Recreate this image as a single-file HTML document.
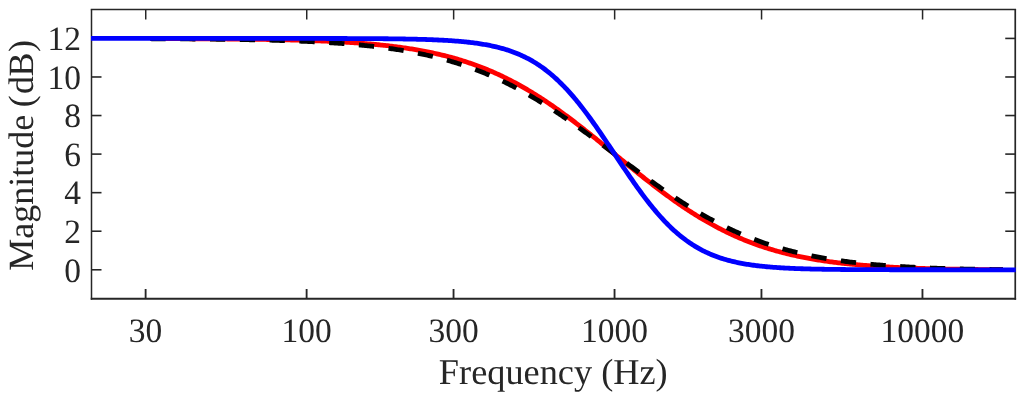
<!DOCTYPE html><html><head><meta charset="utf-8"><title>chart</title>
<style>html,body{margin:0;padding:0;background:#fff;}svg{display:block;will-change:transform;}text{font-family:"Liberation Serif",serif;fill:#262626;text-rendering:geometricPrecision;}</style></head><body>
<svg width="1024" height="398" viewBox="0 0 1024 398">
<rect x="0" y="0" width="1024" height="398" fill="#ffffff"/>
<defs><clipPath id="c"><rect x="91.00" y="9.50" width="924.75" height="289.20"/></clipPath></defs>
<g stroke="#262626" stroke-width="1.5" fill="none">
<path d="M90.75 9.50 H1016.10" stroke-width="1.5"/>
<path d="M91.50 9.50 V299.80" stroke-width="1.5"/>
<path d="M90.75 298.85 H1016.10" stroke-width="2.0"/>
<path d="M1015.25 9.50 V299.80" stroke-width="1.7"/>
<path d="M145.62 298.85 V289.00" stroke-width="1.85"/>
<path d="M145.72 9.50 V19.50" stroke-width="1.5"/>
<path d="M306.62 298.85 V289.00" stroke-width="1.85"/>
<path d="M306.72 9.50 V19.50" stroke-width="1.5"/>
<path d="M453.54 298.85 V289.00" stroke-width="1.85"/>
<path d="M453.64 9.50 V19.50" stroke-width="1.5"/>
<path d="M614.54 298.85 V289.00" stroke-width="1.85"/>
<path d="M614.64 9.50 V19.50" stroke-width="1.5"/>
<path d="M761.45 298.85 V289.00" stroke-width="1.85"/>
<path d="M761.55 9.50 V19.50" stroke-width="1.5"/>
<path d="M922.46 298.85 V289.00" stroke-width="1.85"/>
<path d="M922.56 9.50 V19.50" stroke-width="1.5"/>
<path d="M91.50 269.78 h10.00" stroke-width="1.6"/>
<path d="M1015.25 269.78 h-10.00" stroke-width="1.6"/>
<path d="M91.50 231.22 h10.00" stroke-width="1.6"/>
<path d="M1015.25 231.22 h-10.00" stroke-width="1.6"/>
<path d="M91.50 192.66 h10.00" stroke-width="1.6"/>
<path d="M1015.25 192.66 h-10.00" stroke-width="1.6"/>
<path d="M91.50 154.10 h10.00" stroke-width="1.6"/>
<path d="M1015.25 154.10 h-10.00" stroke-width="1.6"/>
<path d="M91.50 115.54 h10.00" stroke-width="1.6"/>
<path d="M1015.25 115.54 h-10.00" stroke-width="1.6"/>
<path d="M91.50 76.98 h10.00" stroke-width="1.6"/>
<path d="M1015.25 76.98 h-10.00" stroke-width="1.6"/>
<path d="M91.50 38.42 h10.00" stroke-width="1.6"/>
<path d="M1015.25 38.42 h-10.00" stroke-width="1.6"/>
</g>
<defs><clipPath id="c2"><rect x="150" y="9.50" width="853" height="289.20"/></clipPath></defs>
<g clip-path="url(#c2)" fill="none" stroke-linejoin="round">
<path d="M89.50 38.48 L90.83 38.48 L92.15 38.48 L93.48 38.48 L94.80 38.48 L96.13 38.49 L97.45 38.49 L98.78 38.49 L100.10 38.49 L101.43 38.49 L102.75 38.49 L104.08 38.50 L105.40 38.50 L106.73 38.50 L108.06 38.50 L109.38 38.50 L110.71 38.50 L112.03 38.51 L113.36 38.51 L114.68 38.51 L116.01 38.51 L117.33 38.51 L118.66 38.52 L119.98 38.52 L121.31 38.52 L122.63 38.52 L123.96 38.52 L125.28 38.53 L126.61 38.53 L127.94 38.53 L129.26 38.53 L130.59 38.54 L131.91 38.54 L133.24 38.54 L134.56 38.54 L135.89 38.55 L137.21 38.55 L138.54 38.55 L139.86 38.56 L141.19 38.56 L142.51 38.56 L143.84 38.56 L145.16 38.57 L146.49 38.57 L147.82 38.57 L149.14 38.58 L150.47 38.58 L151.79 38.58 L153.12 38.59 L154.44 38.59 L155.77 38.60 L157.09 38.60 L158.42 38.60 L159.74 38.61 L161.07 38.61 L162.39 38.62 L163.72 38.62 L165.05 38.62 L166.37 38.63 L167.70 38.63 L169.02 38.64 L170.35 38.64 L171.67 38.65 L173.00 38.65 L174.32 38.66 L175.65 38.66 L176.97 38.67 L178.30 38.67 L179.62 38.68 L180.95 38.68 L182.28 38.69 L183.60 38.70 L184.93 38.70 L186.25 38.71 L187.58 38.71 L188.90 38.72 L190.23 38.73 L191.55 38.73 L192.88 38.74 L194.20 38.75 L195.53 38.75 L196.85 38.76 L198.18 38.77 L199.50 38.78 L200.83 38.78 L202.16 38.79 L203.48 38.80 L204.81 38.81 L206.13 38.82 L207.46 38.83 L208.78 38.84 L210.11 38.84 L211.43 38.85 L212.76 38.86 L214.08 38.87 L215.41 38.88 L216.73 38.89 L218.06 38.90 L219.38 38.91 L220.71 38.92 L222.04 38.94 L223.36 38.95 L224.69 38.96 L226.01 38.97 L227.34 38.98 L228.66 38.99 L229.99 39.01 L231.31 39.02 L232.64 39.03 L233.96 39.05 L235.29 39.06 L236.61 39.07 L237.94 39.09 L239.27 39.10 L240.59 39.12 L241.92 39.13 L243.24 39.15 L244.57 39.16 L245.89 39.18 L247.22 39.20 L248.54 39.21 L249.87 39.23 L251.19 39.25 L252.52 39.26 L253.84 39.28 L255.17 39.30 L256.50 39.32 L257.82 39.34 L259.15 39.36 L260.47 39.38 L261.80 39.40 L263.12 39.42 L264.45 39.44 L265.77 39.47 L267.10 39.49 L268.42 39.51 L269.75 39.54 L271.07 39.56 L272.40 39.59 L273.72 39.61 L275.05 39.64 L276.38 39.66 L277.70 39.69 L279.03 39.72 L280.35 39.75 L281.68 39.77 L283.00 39.80 L284.33 39.83 L285.65 39.86 L286.98 39.90 L288.30 39.93 L289.63 39.96 L290.95 39.99 L292.28 40.03 L293.61 40.06 L294.93 40.10 L296.26 40.13 L297.58 40.17 L298.91 40.21 L300.23 40.25 L301.56 40.29 L302.88 40.33 L304.21 40.37 L305.53 40.41 L306.86 40.45 L308.18 40.50 L309.51 40.54 L310.83 40.59 L312.16 40.63 L313.49 40.68 L314.81 40.73 L316.14 40.78 L317.46 40.83 L318.79 40.88 L320.11 40.93 L321.44 40.99 L322.76 41.04 L324.09 41.10 L325.41 41.16 L326.74 41.22 L328.06 41.28 L329.39 41.34 L330.72 41.40 L332.04 41.46 L333.37 41.53 L334.69 41.59 L336.02 41.66 L337.34 41.73 L338.67 41.80 L339.99 41.87 L341.32 41.95 L342.64 42.02 L343.97 42.10 L345.29 42.18 L346.62 42.26 L347.94 42.34 L349.27 42.42 L350.60 42.51 L351.92 42.59 L353.25 42.68 L354.57 42.77 L355.90 42.87 L357.22 42.96 L358.55 43.06 L359.87 43.15 L361.20 43.25 L362.52 43.36 L363.85 43.46 L365.17 43.57 L366.50 43.68 L367.82 43.79 L369.15 43.90 L370.48 44.01 L371.80 44.13 L373.13 44.25 L374.45 44.37 L375.78 44.50 L377.10 44.63 L378.43 44.76 L379.75 44.89 L381.08 45.02 L382.40 45.16 L383.73 45.30 L385.05 45.45 L386.38 45.59 L387.71 45.74 L389.03 45.89 L390.36 46.05 L391.68 46.21 L393.01 46.37 L394.33 46.53 L395.66 46.70 L396.98 46.87 L398.31 47.04 L399.63 47.22 L400.96 47.40 L402.28 47.59 L403.61 47.77 L404.94 47.97 L406.26 48.16 L407.59 48.36 L408.91 48.56 L410.24 48.77 L411.56 48.98 L412.89 49.19 L414.21 49.41 L415.54 49.64 L416.86 49.86 L418.19 50.09 L419.51 50.33 L420.84 50.57 L422.16 50.81 L423.49 51.06 L424.82 51.31 L426.14 51.57 L427.47 51.83 L428.79 52.10 L430.12 52.37 L431.44 52.65 L432.77 52.93 L434.09 53.22 L435.42 53.51 L436.74 53.81 L438.07 54.11 L439.39 54.42 L440.72 54.73 L442.05 55.05 L443.37 55.37 L444.70 55.70 L446.02 56.04 L447.35 56.38 L448.67 56.72 L450.00 57.08 L451.32 57.43 L452.65 57.80 L453.97 58.17 L455.30 58.55 L456.62 58.93 L457.95 59.32 L459.27 59.71 L460.60 60.11 L461.93 60.52 L463.25 60.94 L464.58 61.36 L465.90 61.79 L467.23 62.22 L468.55 62.66 L469.88 63.11 L471.20 63.56 L472.53 64.03 L473.85 64.50 L475.18 64.97 L476.50 65.45 L477.83 65.94 L479.15 66.44 L480.48 66.95 L481.81 67.46 L483.13 67.98 L484.46 68.50 L485.78 69.04 L487.11 69.58 L488.43 70.13 L489.76 70.69 L491.08 71.25 L492.41 71.82 L493.73 72.40 L495.06 72.99 L496.38 73.58 L497.71 74.19 L499.04 74.80 L500.36 75.42 L501.69 76.04 L503.01 76.68 L504.34 77.32 L505.66 77.97 L506.99 78.63 L508.31 79.29 L509.64 79.96 L510.96 80.65 L512.29 81.34 L513.61 82.03 L514.94 82.74 L516.26 83.45 L517.59 84.17 L518.92 84.90 L520.24 85.64 L521.57 86.38 L522.89 87.13 L524.22 87.89 L525.54 88.66 L526.87 89.44 L528.19 90.22 L529.52 91.01 L530.84 91.81 L532.17 92.62 L533.49 93.43 L534.82 94.25 L536.15 95.08 L537.47 95.92 L538.80 96.76 L540.12 97.61 L541.45 98.47 L542.77 99.33 L544.10 100.21 L545.42 101.09 L546.75 101.97 L548.07 102.87 L549.40 103.77 L550.72 104.67 L552.05 105.59 L553.38 106.51 L554.70 107.43 L556.03 108.36 L557.35 109.30 L558.68 110.25 L560.00 111.20 L561.33 112.16 L562.65 113.12 L563.98 114.09 L565.30 115.06 L566.63 116.04 L567.95 117.03 L569.28 118.02 L570.60 119.01 L571.93 120.01 L573.26 121.02 L574.58 122.03 L575.91 123.04 L577.23 124.06 L578.56 125.09 L579.88 126.11 L581.21 127.15 L582.53 128.18 L583.86 129.22 L585.18 130.27 L586.51 131.31 L587.83 132.36 L589.16 133.42 L590.49 134.47 L591.81 135.53 L593.14 136.60 L594.46 137.66 L595.79 138.73 L597.11 139.80 L598.44 140.87 L599.76 141.95 L601.09 143.02 L602.41 144.10 L603.74 145.18 L605.06 146.26 L606.39 147.34 L607.71 148.43 L609.04 149.51 L610.37 150.60 L611.69 151.68 L613.02 152.77 L614.34 153.85 L615.67 154.94 L616.99 156.03 L618.32 157.11 L619.64 158.20 L620.97 159.28 L622.29 160.37 L623.62 161.45 L624.94 162.53 L626.27 163.62 L627.60 164.70 L628.92 165.77 L630.25 166.85 L631.57 167.93 L632.90 169.00 L634.22 170.07 L635.55 171.14 L636.87 172.21 L638.20 173.27 L639.52 174.33 L640.85 175.39 L642.17 176.44 L643.50 177.50 L644.82 178.54 L646.15 179.59 L647.48 180.63 L648.80 181.67 L650.13 182.70 L651.45 183.73 L652.78 184.76 L654.10 185.78 L655.43 186.79 L656.75 187.80 L658.08 188.81 L659.40 189.81 L660.73 190.81 L662.05 191.80 L663.38 192.79 L664.71 193.77 L666.03 194.75 L667.36 195.72 L668.68 196.68 L670.01 197.64 L671.33 198.59 L672.66 199.54 L673.98 200.48 L675.31 201.42 L676.63 202.34 L677.96 203.27 L679.28 204.18 L680.61 205.09 L681.93 205.99 L683.26 206.89 L684.59 207.78 L685.91 208.66 L687.24 209.53 L688.56 210.40 L689.89 211.26 L691.21 212.11 L692.54 212.96 L693.86 213.80 L695.19 214.63 L696.51 215.45 L697.84 216.27 L699.16 217.08 L700.49 217.88 L701.82 218.67 L703.14 219.46 L704.47 220.23 L705.79 221.00 L707.12 221.77 L708.44 222.52 L709.77 223.27 L711.09 224.01 L712.42 224.74 L713.74 225.46 L715.07 226.18 L716.39 226.88 L717.72 227.58 L719.04 228.28 L720.37 228.96 L721.70 229.63 L723.02 230.30 L724.35 230.96 L725.67 231.61 L727.00 232.26 L728.32 232.89 L729.65 233.52 L730.97 234.14 L732.30 234.76 L733.62 235.36 L734.95 235.96 L736.27 236.55 L737.60 237.13 L738.92 237.70 L740.25 238.27 L741.58 238.83 L742.90 239.38 L744.23 239.92 L745.55 240.46 L746.88 240.98 L748.20 241.51 L749.53 242.02 L750.85 242.53 L752.18 243.02 L753.50 243.52 L754.83 244.00 L756.15 244.48 L757.48 244.95 L758.81 245.41 L760.13 245.87 L761.46 246.32 L762.78 246.76 L764.11 247.20 L765.43 247.62 L766.76 248.05 L768.08 248.46 L769.41 248.87 L770.73 249.27 L772.06 249.67 L773.38 250.06 L774.71 250.44 L776.03 250.82 L777.36 251.19 L778.69 251.56 L780.01 251.92 L781.34 252.27 L782.66 252.62 L783.99 252.96 L785.31 253.29 L786.64 253.62 L787.96 253.95 L789.29 254.27 L790.61 254.58 L791.94 254.89 L793.26 255.19 L794.59 255.49 L795.92 255.78 L797.24 256.07 L798.57 256.35 L799.89 256.63 L801.22 256.90 L802.54 257.17 L803.87 257.43 L805.19 257.69 L806.52 257.94 L807.84 258.19 L809.17 258.43 L810.49 258.67 L811.82 258.91 L813.14 259.14 L814.47 259.36 L815.80 259.59 L817.12 259.81 L818.45 260.02 L819.77 260.23 L821.10 260.44 L822.42 260.64 L823.75 260.84 L825.07 261.03 L826.40 261.22 L827.72 261.41 L829.05 261.59 L830.37 261.77 L831.70 261.95 L833.03 262.13 L834.35 262.30 L835.68 262.46 L837.00 262.63 L838.33 262.79 L839.65 262.94 L840.98 263.10 L842.30 263.25 L843.63 263.40 L844.95 263.54 L846.28 263.69 L847.60 263.83 L848.93 263.96 L850.25 264.10 L851.58 264.23 L852.91 264.36 L854.23 264.48 L855.56 264.61 L856.88 264.73 L858.21 264.85 L859.53 264.96 L860.86 265.08 L862.18 265.19 L863.51 265.30 L864.83 265.41 L866.16 265.51 L867.48 265.62 L868.81 265.72 L870.14 265.82 L871.46 265.91 L872.79 266.01 L874.11 266.10 L875.44 266.19 L876.76 266.28 L878.09 266.37 L879.41 266.45 L880.74 266.54 L882.06 266.62 L883.39 266.70 L884.71 266.78 L886.04 266.85 L887.37 266.93 L888.69 267.00 L890.02 267.07 L891.34 267.14 L892.67 267.21 L893.99 267.28 L895.32 267.35 L896.64 267.41 L897.97 267.48 L899.29 267.54 L900.62 267.60 L901.94 267.66 L903.27 267.72 L904.59 267.77 L905.92 267.83 L907.25 267.88 L908.57 267.94 L909.90 267.99 L911.22 268.04 L912.55 268.09 L913.87 268.14 L915.20 268.19 L916.52 268.23 L917.85 268.28 L919.17 268.32 L920.50 268.37 L921.82 268.41 L923.15 268.45 L924.48 268.49 L925.80 268.53 L927.13 268.57 L928.45 268.61 L929.78 268.64 L931.10 268.68 L932.43 268.72 L933.75 268.75 L935.08 268.78 L936.40 268.82 L937.73 268.85 L939.05 268.88 L940.38 268.91 L941.70 268.94 L943.03 268.97 L944.36 269.00 L945.68 269.03 L947.01 269.06 L948.33 269.08 L949.66 269.11 L950.98 269.13 L952.31 269.16 L953.63 269.18 L954.96 269.21 L956.28 269.23 L957.61 269.25 L958.93 269.27 L960.26 269.29 L961.59 269.31 L962.91 269.33 L964.24 269.35 L965.56 269.37 L966.89 269.39 L968.21 269.41 L969.54 269.43 L970.86 269.44 L972.19 269.46 L973.51 269.48 L974.84 269.49 L976.16 269.51 L977.49 269.52 L978.81 269.53 L980.14 269.55 L981.47 269.56 L982.79 269.57 L984.12 269.59 L985.44 269.60 L986.77 269.61 L988.09 269.62 L989.42 269.63 L990.74 269.64 L992.07 269.65 L993.39 269.66 L994.72 269.67 L996.04 269.68 L997.37 269.69 L998.70 269.70 L1000.02 269.70 L1001.35 269.71 L1002.67 269.72 L1004.00 269.72 L1005.32 269.73 L1006.65 269.74 L1007.97 269.74 L1009.30 269.75 L1010.62 269.75 L1011.95 269.76 L1013.27 269.76 L1014.60 269.76 L1015.92 269.77 L1017.25 269.77" stroke="#ff0000" stroke-width="4.8"/>
<path d="M89.50 38.54 L90.83 38.54 L92.15 38.55 L93.48 38.55 L94.80 38.55 L96.13 38.55 L97.45 38.56 L98.78 38.56 L100.10 38.56 L101.43 38.56 L102.75 38.57 L104.08 38.57 L105.40 38.57 L106.73 38.58 L108.06 38.58 L109.38 38.58 L110.71 38.59 L112.03 38.59 L113.36 38.59 L114.68 38.60 L116.01 38.60 L117.33 38.60 L118.66 38.61 L119.98 38.61 L121.31 38.61 L122.63 38.62 L123.96 38.62 L125.28 38.63 L126.61 38.63 L127.94 38.63 L129.26 38.64 L130.59 38.64 L131.91 38.65 L133.24 38.65 L134.56 38.66 L135.89 38.66 L137.21 38.67 L138.54 38.67 L139.86 38.68 L141.19 38.68 L142.51 38.69 L143.84 38.69 L145.16 38.70 L146.49 38.70 L147.82 38.71 L149.14 38.71 L150.47 38.72 L151.79 38.73 L153.12 38.73 L154.44 38.74 L155.77 38.74 L157.09 38.75 L158.42 38.76 L159.74 38.76 L161.07 38.77 L162.39 38.78 L163.72 38.79 L165.05 38.79 L166.37 38.80 L167.70 38.81 L169.02 38.82 L170.35 38.82 L171.67 38.83 L173.00 38.84 L174.32 38.85 L175.65 38.86 L176.97 38.87 L178.30 38.87 L179.62 38.88 L180.95 38.89 L182.28 38.90 L183.60 38.91 L184.93 38.92 L186.25 38.93 L187.58 38.94 L188.90 38.95 L190.23 38.96 L191.55 38.97 L192.88 38.98 L194.20 39.00 L195.53 39.01 L196.85 39.02 L198.18 39.03 L199.50 39.04 L200.83 39.06 L202.16 39.07 L203.48 39.08 L204.81 39.09 L206.13 39.11 L207.46 39.12 L208.78 39.14 L210.11 39.15 L211.43 39.16 L212.76 39.18 L214.08 39.19 L215.41 39.21 L216.73 39.23 L218.06 39.24 L219.38 39.26 L220.71 39.27 L222.04 39.29 L223.36 39.31 L224.69 39.33 L226.01 39.35 L227.34 39.36 L228.66 39.38 L229.99 39.40 L231.31 39.42 L232.64 39.44 L233.96 39.46 L235.29 39.48 L236.61 39.50 L237.94 39.52 L239.27 39.55 L240.59 39.57 L241.92 39.59 L243.24 39.61 L244.57 39.64 L245.89 39.66 L247.22 39.69 L248.54 39.71 L249.87 39.74 L251.19 39.76 L252.52 39.79 L253.84 39.82 L255.17 39.85 L256.50 39.87 L257.82 39.90 L259.15 39.93 L260.47 39.96 L261.80 39.99 L263.12 40.02 L264.45 40.06 L265.77 40.09 L267.10 40.12 L268.42 40.15 L269.75 40.19 L271.07 40.22 L272.40 40.26 L273.72 40.30 L275.05 40.33 L276.38 40.37 L277.70 40.41 L279.03 40.45 L280.35 40.49 L281.68 40.53 L283.00 40.57 L284.33 40.61 L285.65 40.66 L286.98 40.70 L288.30 40.75 L289.63 40.79 L290.95 40.84 L292.28 40.89 L293.61 40.93 L294.93 40.98 L296.26 41.03 L297.58 41.09 L298.91 41.14 L300.23 41.19 L301.56 41.25 L302.88 41.30 L304.21 41.36 L305.53 41.42 L306.86 41.47 L308.18 41.53 L309.51 41.60 L310.83 41.66 L312.16 41.72 L313.49 41.79 L314.81 41.85 L316.14 41.92 L317.46 41.99 L318.79 42.06 L320.11 42.13 L321.44 42.20 L322.76 42.27 L324.09 42.35 L325.41 42.43 L326.74 42.50 L328.06 42.58 L329.39 42.66 L330.72 42.75 L332.04 42.83 L333.37 42.92 L334.69 43.00 L336.02 43.09 L337.34 43.18 L338.67 43.28 L339.99 43.37 L341.32 43.47 L342.64 43.56 L343.97 43.66 L345.29 43.76 L346.62 43.87 L347.94 43.97 L349.27 44.08 L350.60 44.19 L351.92 44.30 L353.25 44.41 L354.57 44.53 L355.90 44.64 L357.22 44.76 L358.55 44.88 L359.87 45.01 L361.20 45.13 L362.52 45.26 L363.85 45.39 L365.17 45.53 L366.50 45.66 L367.82 45.80 L369.15 45.94 L370.48 46.08 L371.80 46.23 L373.13 46.38 L374.45 46.53 L375.78 46.68 L377.10 46.84 L378.43 47.00 L379.75 47.16 L381.08 47.32 L382.40 47.49 L383.73 47.66 L385.05 47.83 L386.38 48.01 L387.71 48.19 L389.03 48.37 L390.36 48.56 L391.68 48.75 L393.01 48.94 L394.33 49.14 L395.66 49.34 L396.98 49.54 L398.31 49.75 L399.63 49.96 L400.96 50.17 L402.28 50.39 L403.61 50.61 L404.94 50.83 L406.26 51.06 L407.59 51.29 L408.91 51.53 L410.24 51.77 L411.56 52.01 L412.89 52.26 L414.21 52.51 L415.54 52.77 L416.86 53.03 L418.19 53.29 L419.51 53.56 L420.84 53.83 L422.16 54.11 L423.49 54.39 L424.82 54.68 L426.14 54.97 L427.47 55.26 L428.79 55.57 L430.12 55.87 L431.44 56.18 L432.77 56.49 L434.09 56.81 L435.42 57.14 L436.74 57.47 L438.07 57.80 L439.39 58.14 L440.72 58.49 L442.05 58.84 L443.37 59.19 L444.70 59.55 L446.02 59.92 L447.35 60.29 L448.67 60.67 L450.00 61.05 L451.32 61.44 L452.65 61.83 L453.97 62.23 L455.30 62.63 L456.62 63.04 L457.95 63.46 L459.27 63.88 L460.60 64.31 L461.93 64.74 L463.25 65.18 L464.58 65.63 L465.90 66.08 L467.23 66.54 L468.55 67.00 L469.88 67.47 L471.20 67.95 L472.53 68.43 L473.85 68.92 L475.18 69.42 L476.50 69.92 L477.83 70.42 L479.15 70.94 L480.48 71.46 L481.81 71.99 L483.13 72.52 L484.46 73.06 L485.78 73.61 L487.11 74.16 L488.43 74.72 L489.76 75.28 L491.08 75.86 L492.41 76.44 L493.73 77.02 L495.06 77.61 L496.38 78.21 L497.71 78.82 L499.04 79.43 L500.36 80.05 L501.69 80.68 L503.01 81.31 L504.34 81.95 L505.66 82.59 L506.99 83.25 L508.31 83.90 L509.64 84.57 L510.96 85.24 L512.29 85.92 L513.61 86.61 L514.94 87.30 L516.26 88.00 L517.59 88.70 L518.92 89.41 L520.24 90.13 L521.57 90.86 L522.89 91.59 L524.22 92.33 L525.54 93.07 L526.87 93.82 L528.19 94.58 L529.52 95.34 L530.84 96.11 L532.17 96.88 L533.49 97.66 L534.82 98.45 L536.15 99.24 L537.47 100.04 L538.80 100.85 L540.12 101.66 L541.45 102.48 L542.77 103.30 L544.10 104.13 L545.42 104.96 L546.75 105.80 L548.07 106.64 L549.40 107.49 L550.72 108.35 L552.05 109.21 L553.38 110.08 L554.70 110.95 L556.03 111.82 L557.35 112.71 L558.68 113.59 L560.00 114.48 L561.33 115.38 L562.65 116.28 L563.98 117.18 L565.30 118.09 L566.63 119.00 L567.95 119.92 L569.28 120.84 L570.60 121.77 L571.93 122.70 L573.26 123.63 L574.58 124.57 L575.91 125.51 L577.23 126.46 L578.56 127.40 L579.88 128.36 L581.21 129.31 L582.53 130.27 L583.86 131.23 L585.18 132.19 L586.51 133.16 L587.83 134.13 L589.16 135.10 L590.49 136.07 L591.81 137.05 L593.14 138.03 L594.46 139.01 L595.79 139.99 L597.11 140.97 L598.44 141.96 L599.76 142.94 L601.09 143.93 L602.41 144.92 L603.74 145.91 L605.06 146.91 L606.39 147.90 L607.71 148.90 L609.04 149.89 L610.37 150.89 L611.69 151.88 L613.02 152.88 L614.34 153.87 L615.67 154.87 L616.99 155.87 L618.32 156.86 L619.64 157.86 L620.97 158.86 L622.29 159.85 L623.62 160.85 L624.94 161.84 L626.27 162.83 L627.60 163.83 L628.92 164.82 L630.25 165.81 L631.57 166.79 L632.90 167.78 L634.22 168.77 L635.55 169.75 L636.87 170.73 L638.20 171.71 L639.52 172.69 L640.85 173.66 L642.17 174.63 L643.50 175.60 L644.82 176.57 L646.15 177.54 L647.48 178.50 L648.80 179.46 L650.13 180.41 L651.45 181.37 L652.78 182.32 L654.10 183.26 L655.43 184.20 L656.75 185.14 L658.08 186.08 L659.40 187.01 L660.73 187.94 L662.05 188.86 L663.38 189.78 L664.71 190.70 L666.03 191.61 L667.36 192.52 L668.68 193.42 L670.01 194.32 L671.33 195.21 L672.66 196.10 L673.98 196.98 L675.31 197.86 L676.63 198.73 L677.96 199.60 L679.28 200.47 L680.61 201.33 L681.93 202.18 L683.26 203.03 L684.59 203.87 L685.91 204.71 L687.24 205.54 L688.56 206.36 L689.89 207.18 L691.21 208.00 L692.54 208.80 L693.86 209.61 L695.19 210.40 L696.51 211.19 L697.84 211.98 L699.16 212.76 L700.49 213.53 L701.82 214.29 L703.14 215.05 L704.47 215.81 L705.79 216.55 L707.12 217.29 L708.44 218.03 L709.77 218.76 L711.09 219.48 L712.42 220.19 L713.74 220.90 L715.07 221.60 L716.39 222.30 L717.72 222.99 L719.04 223.67 L720.37 224.34 L721.70 225.01 L723.02 225.68 L724.35 226.33 L725.67 226.98 L727.00 227.62 L728.32 228.26 L729.65 228.89 L730.97 229.51 L732.30 230.13 L733.62 230.74 L734.95 231.34 L736.27 231.93 L737.60 232.52 L738.92 233.11 L740.25 233.68 L741.58 234.25 L742.90 234.82 L744.23 235.37 L745.55 235.92 L746.88 236.46 L748.20 237.00 L749.53 237.53 L750.85 238.06 L752.18 238.57 L753.50 239.08 L754.83 239.59 L756.15 240.09 L757.48 240.58 L758.81 241.06 L760.13 241.54 L761.46 242.02 L762.78 242.48 L764.11 242.94 L765.43 243.40 L766.76 243.85 L768.08 244.29 L769.41 244.73 L770.73 245.16 L772.06 245.58 L773.38 246.00 L774.71 246.42 L776.03 246.82 L777.36 247.23 L778.69 247.62 L780.01 248.01 L781.34 248.40 L782.66 248.78 L783.99 249.15 L785.31 249.52 L786.64 249.88 L787.96 250.24 L789.29 250.59 L790.61 250.94 L791.94 251.28 L793.26 251.62 L794.59 251.95 L795.92 252.28 L797.24 252.60 L798.57 252.92 L799.89 253.23 L801.22 253.54 L802.54 253.84 L803.87 254.14 L805.19 254.43 L806.52 254.72 L807.84 255.00 L809.17 255.28 L810.49 255.56 L811.82 255.83 L813.14 256.10 L814.47 256.36 L815.80 256.62 L817.12 256.87 L818.45 257.12 L819.77 257.36 L821.10 257.61 L822.42 257.84 L823.75 258.08 L825.07 258.31 L826.40 258.53 L827.72 258.76 L829.05 258.97 L830.37 259.19 L831.70 259.40 L833.03 259.61 L834.35 259.81 L835.68 260.01 L837.00 260.21 L838.33 260.40 L839.65 260.60 L840.98 260.78 L842.30 260.97 L843.63 261.15 L844.95 261.33 L846.28 261.50 L847.60 261.67 L848.93 261.84 L850.25 262.01 L851.58 262.17 L852.91 262.33 L854.23 262.49 L855.56 262.64 L856.88 262.79 L858.21 262.94 L859.53 263.09 L860.86 263.23 L862.18 263.37 L863.51 263.51 L864.83 263.65 L866.16 263.78 L867.48 263.91 L868.81 264.04 L870.14 264.17 L871.46 264.29 L872.79 264.42 L874.11 264.54 L875.44 264.65 L876.76 264.77 L878.09 264.88 L879.41 265.00 L880.74 265.10 L882.06 265.21 L883.39 265.32 L884.71 265.42 L886.04 265.52 L887.37 265.62 L888.69 265.72 L890.02 265.82 L891.34 265.91 L892.67 266.00 L893.99 266.09 L895.32 266.18 L896.64 266.27 L897.97 266.36 L899.29 266.44 L900.62 266.52 L901.94 266.60 L903.27 266.68 L904.59 266.76 L905.92 266.84 L907.25 266.91 L908.57 266.98 L909.90 267.06 L911.22 267.13 L912.55 267.20 L913.87 267.26 L915.20 267.33 L916.52 267.40 L917.85 267.46 L919.17 267.52 L920.50 267.58 L921.82 267.65 L923.15 267.70 L924.48 267.76 L925.80 267.82 L927.13 267.88 L928.45 267.93 L929.78 267.98 L931.10 268.04 L932.43 268.09 L933.75 268.14 L935.08 268.19 L936.40 268.24 L937.73 268.28 L939.05 268.33 L940.38 268.37 L941.70 268.42 L943.03 268.46 L944.36 268.51 L945.68 268.55 L947.01 268.59 L948.33 268.63 L949.66 268.67 L950.98 268.71 L952.31 268.74 L953.63 268.78 L954.96 268.82 L956.28 268.85 L957.61 268.89 L958.93 268.92 L960.26 268.95 L961.59 268.98 L962.91 269.02 L964.24 269.05 L965.56 269.08 L966.89 269.11 L968.21 269.13 L969.54 269.16 L970.86 269.19 L972.19 269.22 L973.51 269.24 L974.84 269.27 L976.16 269.29 L977.49 269.31 L978.81 269.34 L980.14 269.36 L981.47 269.38 L982.79 269.40 L984.12 269.42 L985.44 269.44 L986.77 269.46 L988.09 269.48 L989.42 269.50 L990.74 269.52 L992.07 269.54 L993.39 269.55 L994.72 269.57 L996.04 269.59 L997.37 269.60 L998.70 269.61 L1000.02 269.63 L1001.35 269.64 L1002.67 269.65 L1004.00 269.67 L1005.32 269.68 L1006.65 269.69 L1007.97 269.70 L1009.30 269.71 L1010.62 269.72 L1011.95 269.73 L1013.27 269.73 L1014.60 269.74 L1015.92 269.75 L1017.25 269.76" stroke="#000000" stroke-width="4.8" stroke-dasharray="15.3 14.51" stroke-dashoffset="28.55"/>
</g>
<g clip-path="url(#c)" fill="none" stroke-linejoin="round">
<path d="M89.50 38.42 L90.83 38.42 L92.15 38.42 L93.48 38.42 L94.80 38.42 L96.13 38.42 L97.45 38.42 L98.78 38.42 L100.10 38.42 L101.43 38.42 L102.75 38.42 L104.08 38.42 L105.40 38.42 L106.73 38.42 L108.06 38.42 L109.38 38.42 L110.71 38.42 L112.03 38.42 L113.36 38.42 L114.68 38.42 L116.01 38.42 L117.33 38.42 L118.66 38.42 L119.98 38.42 L121.31 38.42 L122.63 38.42 L123.96 38.42 L125.28 38.42 L126.61 38.42 L127.94 38.42 L129.26 38.42 L130.59 38.42 L131.91 38.42 L133.24 38.42 L134.56 38.42 L135.89 38.42 L137.21 38.42 L138.54 38.42 L139.86 38.42 L141.19 38.42 L142.51 38.42 L143.84 38.42 L145.16 38.42 L146.49 38.42 L147.82 38.42 L149.14 38.42 L150.47 38.42 L151.79 38.42 L153.12 38.42 L154.44 38.42 L155.77 38.42 L157.09 38.42 L158.42 38.42 L159.74 38.42 L161.07 38.42 L162.39 38.42 L163.72 38.42 L165.05 38.42 L166.37 38.42 L167.70 38.42 L169.02 38.42 L170.35 38.42 L171.67 38.42 L173.00 38.42 L174.32 38.42 L175.65 38.42 L176.97 38.42 L178.30 38.42 L179.62 38.42 L180.95 38.42 L182.28 38.42 L183.60 38.42 L184.93 38.42 L186.25 38.42 L187.58 38.42 L188.90 38.42 L190.23 38.42 L191.55 38.42 L192.88 38.42 L194.20 38.42 L195.53 38.42 L196.85 38.42 L198.18 38.42 L199.50 38.42 L200.83 38.42 L202.16 38.42 L203.48 38.42 L204.81 38.42 L206.13 38.42 L207.46 38.42 L208.78 38.42 L210.11 38.42 L211.43 38.42 L212.76 38.42 L214.08 38.42 L215.41 38.42 L216.73 38.42 L218.06 38.42 L219.38 38.42 L220.71 38.42 L222.04 38.42 L223.36 38.42 L224.69 38.42 L226.01 38.42 L227.34 38.42 L228.66 38.42 L229.99 38.42 L231.31 38.42 L232.64 38.42 L233.96 38.42 L235.29 38.42 L236.61 38.42 L237.94 38.42 L239.27 38.42 L240.59 38.42 L241.92 38.42 L243.24 38.42 L244.57 38.42 L245.89 38.43 L247.22 38.43 L248.54 38.43 L249.87 38.43 L251.19 38.43 L252.52 38.43 L253.84 38.43 L255.17 38.43 L256.50 38.43 L257.82 38.43 L259.15 38.43 L260.47 38.43 L261.80 38.43 L263.12 38.43 L264.45 38.43 L265.77 38.43 L267.10 38.43 L268.42 38.43 L269.75 38.43 L271.07 38.43 L272.40 38.43 L273.72 38.43 L275.05 38.43 L276.38 38.43 L277.70 38.43 L279.03 38.43 L280.35 38.43 L281.68 38.43 L283.00 38.44 L284.33 38.44 L285.65 38.44 L286.98 38.44 L288.30 38.44 L289.63 38.44 L290.95 38.44 L292.28 38.44 L293.61 38.44 L294.93 38.44 L296.26 38.44 L297.58 38.44 L298.91 38.44 L300.23 38.45 L301.56 38.45 L302.88 38.45 L304.21 38.45 L305.53 38.45 L306.86 38.45 L308.18 38.45 L309.51 38.45 L310.83 38.46 L312.16 38.46 L313.49 38.46 L314.81 38.46 L316.14 38.46 L317.46 38.46 L318.79 38.46 L320.11 38.47 L321.44 38.47 L322.76 38.47 L324.09 38.47 L325.41 38.47 L326.74 38.48 L328.06 38.48 L329.39 38.48 L330.72 38.48 L332.04 38.49 L333.37 38.49 L334.69 38.49 L336.02 38.49 L337.34 38.50 L338.67 38.50 L339.99 38.50 L341.32 38.51 L342.64 38.51 L343.97 38.51 L345.29 38.52 L346.62 38.52 L347.94 38.53 L349.27 38.53 L350.60 38.54 L351.92 38.54 L353.25 38.54 L354.57 38.55 L355.90 38.55 L357.22 38.56 L358.55 38.57 L359.87 38.57 L361.20 38.58 L362.52 38.58 L363.85 38.59 L365.17 38.60 L366.50 38.61 L367.82 38.61 L369.15 38.62 L370.48 38.63 L371.80 38.64 L373.13 38.65 L374.45 38.65 L375.78 38.66 L377.10 38.67 L378.43 38.68 L379.75 38.70 L381.08 38.71 L382.40 38.72 L383.73 38.73 L385.05 38.74 L386.38 38.76 L387.71 38.77 L389.03 38.78 L390.36 38.80 L391.68 38.81 L393.01 38.83 L394.33 38.85 L395.66 38.86 L396.98 38.88 L398.31 38.90 L399.63 38.92 L400.96 38.94 L402.28 38.96 L403.61 38.98 L404.94 39.00 L406.26 39.03 L407.59 39.05 L408.91 39.08 L410.24 39.10 L411.56 39.13 L412.89 39.16 L414.21 39.19 L415.54 39.22 L416.86 39.25 L418.19 39.29 L419.51 39.32 L420.84 39.36 L422.16 39.39 L423.49 39.43 L424.82 39.47 L426.14 39.52 L427.47 39.56 L428.79 39.61 L430.12 39.65 L431.44 39.70 L432.77 39.75 L434.09 39.81 L435.42 39.86 L436.74 39.92 L438.07 39.98 L439.39 40.04 L440.72 40.11 L442.05 40.18 L443.37 40.25 L444.70 40.32 L446.02 40.40 L447.35 40.47 L448.67 40.56 L450.00 40.64 L451.32 40.73 L452.65 40.82 L453.97 40.92 L455.30 41.02 L456.62 41.12 L457.95 41.23 L459.27 41.34 L460.60 41.45 L461.93 41.57 L463.25 41.70 L464.58 41.83 L465.90 41.96 L467.23 42.10 L468.55 42.25 L469.88 42.40 L471.20 42.55 L472.53 42.72 L473.85 42.89 L475.18 43.06 L476.50 43.24 L477.83 43.43 L479.15 43.63 L480.48 43.83 L481.81 44.04 L483.13 44.26 L484.46 44.49 L485.78 44.72 L487.11 44.96 L488.43 45.22 L489.76 45.48 L491.08 45.75 L492.41 46.03 L493.73 46.33 L495.06 46.63 L496.38 46.94 L497.71 47.27 L499.04 47.60 L500.36 47.95 L501.69 48.31 L503.01 48.68 L504.34 49.07 L505.66 49.47 L506.99 49.88 L508.31 50.31 L509.64 50.76 L510.96 51.21 L512.29 51.69 L513.61 52.18 L514.94 52.68 L516.26 53.20 L517.59 53.74 L518.92 54.30 L520.24 54.87 L521.57 55.47 L522.89 56.08 L524.22 56.71 L525.54 57.36 L526.87 58.03 L528.19 58.73 L529.52 59.44 L530.84 60.17 L532.17 60.93 L533.49 61.71 L534.82 62.51 L536.15 63.33 L537.47 64.18 L538.80 65.05 L540.12 65.94 L541.45 66.86 L542.77 67.81 L544.10 68.77 L545.42 69.77 L546.75 70.79 L548.07 71.83 L549.40 72.90 L550.72 74.00 L552.05 75.12 L553.38 76.27 L554.70 77.44 L556.03 78.65 L557.35 79.87 L558.68 81.13 L560.00 82.41 L561.33 83.72 L562.65 85.06 L563.98 86.42 L565.30 87.81 L566.63 89.22 L567.95 90.66 L569.28 92.13 L570.60 93.62 L571.93 95.14 L573.26 96.68 L574.58 98.24 L575.91 99.83 L577.23 101.45 L578.56 103.09 L579.88 104.75 L581.21 106.43 L582.53 108.13 L583.86 109.86 L585.18 111.61 L586.51 113.37 L587.83 115.16 L589.16 116.96 L590.49 118.78 L591.81 120.62 L593.14 122.48 L594.46 124.35 L595.79 126.23 L597.11 128.13 L598.44 130.04 L599.76 131.97 L601.09 133.90 L602.41 135.85 L603.74 137.80 L605.06 139.76 L606.39 141.73 L607.71 143.71 L609.04 145.69 L610.37 147.68 L611.69 149.66 L613.02 151.66 L614.34 153.65 L615.67 155.64 L616.99 157.64 L618.32 159.63 L619.64 161.61 L620.97 163.60 L622.29 165.58 L623.62 167.55 L624.94 169.52 L626.27 171.48 L627.60 173.43 L628.92 175.38 L630.25 177.31 L631.57 179.23 L632.90 181.13 L634.22 183.03 L635.55 184.91 L636.87 186.78 L638.20 188.63 L639.52 190.46 L640.85 192.28 L642.17 194.07 L643.50 195.85 L644.82 197.61 L646.15 199.35 L647.48 201.07 L648.80 202.77 L650.13 204.45 L651.45 206.10 L652.78 207.73 L654.10 209.34 L655.43 210.92 L656.75 212.48 L658.08 214.01 L659.40 215.52 L660.73 217.00 L662.05 218.46 L663.38 219.89 L664.71 221.30 L666.03 222.68 L667.36 224.03 L668.68 225.35 L670.01 226.65 L671.33 227.92 L672.66 229.17 L673.98 230.39 L675.31 231.58 L676.63 232.75 L677.96 233.88 L679.28 235.00 L680.61 236.08 L681.93 237.14 L683.26 238.18 L684.59 239.18 L685.91 240.17 L687.24 241.12 L688.56 242.06 L689.89 242.96 L691.21 243.85 L692.54 244.71 L693.86 245.54 L695.19 246.36 L696.51 247.15 L697.84 247.91 L699.16 248.66 L700.49 249.38 L701.82 250.09 L703.14 250.77 L704.47 251.43 L705.79 252.07 L707.12 252.69 L708.44 253.29 L709.77 253.88 L711.09 254.44 L712.42 254.99 L713.74 255.52 L715.07 256.03 L716.39 256.53 L717.72 257.01 L719.04 257.47 L720.37 257.92 L721.70 258.35 L723.02 258.77 L724.35 259.18 L725.67 259.57 L727.00 259.95 L728.32 260.31 L729.65 260.66 L730.97 261.00 L732.30 261.33 L733.62 261.65 L734.95 261.96 L736.27 262.25 L737.60 262.54 L738.92 262.81 L740.25 263.07 L741.58 263.33 L742.90 263.57 L744.23 263.81 L745.55 264.04 L746.88 264.26 L748.20 264.47 L749.53 264.68 L750.85 264.87 L752.18 265.06 L753.50 265.25 L754.83 265.42 L756.15 265.59 L757.48 265.75 L758.81 265.91 L760.13 266.06 L761.46 266.21 L762.78 266.35 L764.11 266.48 L765.43 266.61 L766.76 266.74 L768.08 266.86 L769.41 266.97 L770.73 267.08 L772.06 267.19 L773.38 267.29 L774.71 267.39 L776.03 267.48 L777.36 267.58 L778.69 267.66 L780.01 267.75 L781.34 267.83 L782.66 267.91 L783.99 267.98 L785.31 268.05 L786.64 268.12 L787.96 268.19 L789.29 268.25 L790.61 268.32 L791.94 268.37 L793.26 268.43 L794.59 268.49 L795.92 268.54 L797.24 268.59 L798.57 268.64 L799.89 268.68 L801.22 268.73 L802.54 268.77 L803.87 268.81 L805.19 268.85 L806.52 268.89 L807.84 268.93 L809.17 268.96 L810.49 269.00 L811.82 269.03 L813.14 269.06 L814.47 269.09 L815.80 269.12 L817.12 269.14 L818.45 269.17 L819.77 269.20 L821.10 269.22 L822.42 269.24 L823.75 269.27 L825.07 269.29 L826.40 269.31 L827.72 269.33 L829.05 269.35 L830.37 269.37 L831.70 269.38 L833.03 269.40 L834.35 269.42 L835.68 269.43 L837.00 269.45 L838.33 269.46 L839.65 269.47 L840.98 269.49 L842.30 269.50 L843.63 269.51 L844.95 269.52 L846.28 269.53 L847.60 269.55 L848.93 269.56 L850.25 269.57 L851.58 269.57 L852.91 269.58 L854.23 269.59 L855.56 269.60 L856.88 269.61 L858.21 269.62 L859.53 269.62 L860.86 269.63 L862.18 269.64 L863.51 269.64 L864.83 269.65 L866.16 269.66 L867.48 269.66 L868.81 269.67 L870.14 269.67 L871.46 269.68 L872.79 269.68 L874.11 269.69 L875.44 269.69 L876.76 269.69 L878.09 269.70 L879.41 269.70 L880.74 269.71 L882.06 269.71 L883.39 269.71 L884.71 269.72 L886.04 269.72 L887.37 269.72 L888.69 269.72 L890.02 269.73 L891.34 269.73 L892.67 269.73 L893.99 269.73 L895.32 269.74 L896.64 269.74 L897.97 269.74 L899.29 269.74 L900.62 269.74 L901.94 269.75 L903.27 269.75 L904.59 269.75 L905.92 269.75 L907.25 269.75 L908.57 269.75 L909.90 269.76 L911.22 269.76 L912.55 269.76 L913.87 269.76 L915.20 269.76 L916.52 269.76 L917.85 269.76 L919.17 269.76 L920.50 269.76 L921.82 269.76 L923.15 269.77 L924.48 269.77 L925.80 269.77 L927.13 269.77 L928.45 269.77 L929.78 269.77 L931.10 269.77 L932.43 269.77 L933.75 269.77 L935.08 269.77 L936.40 269.77 L937.73 269.77 L939.05 269.77 L940.38 269.77 L941.70 269.77 L943.03 269.77 L944.36 269.77 L945.68 269.78 L947.01 269.78 L948.33 269.78 L949.66 269.78 L950.98 269.78 L952.31 269.78 L953.63 269.78 L954.96 269.78 L956.28 269.78 L957.61 269.78 L958.93 269.78 L960.26 269.78 L961.59 269.78 L962.91 269.78 L964.24 269.78 L965.56 269.78 L966.89 269.78 L968.21 269.78 L969.54 269.78 L970.86 269.78 L972.19 269.78 L973.51 269.78 L974.84 269.78 L976.16 269.78 L977.49 269.78 L978.81 269.78 L980.14 269.78 L981.47 269.78 L982.79 269.78 L984.12 269.78 L985.44 269.78 L986.77 269.78 L988.09 269.78 L989.42 269.78 L990.74 269.78 L992.07 269.78 L993.39 269.78 L994.72 269.78 L996.04 269.78 L997.37 269.78 L998.70 269.78 L1000.02 269.78 L1001.35 269.78 L1002.67 269.78 L1004.00 269.78 L1005.32 269.78 L1006.65 269.78 L1007.97 269.78 L1009.30 269.78 L1010.62 269.78 L1011.95 269.78 L1013.27 269.78 L1014.60 269.78 L1015.92 269.78 L1017.25 269.78" stroke="#0000ff" stroke-width="4.8"/>
</g>
<text transform="translate(145.62 341.60) scale(1 1.020)" font-size="33.50" text-anchor="middle">30</text>
<text transform="translate(306.62 341.60) scale(1 1.020)" font-size="33.50" text-anchor="middle">100</text>
<text transform="translate(453.54 341.60) scale(1 1.020)" font-size="33.50" text-anchor="middle">300</text>
<text transform="translate(614.54 341.60) scale(1 1.020)" font-size="33.50" text-anchor="middle">1000</text>
<text transform="translate(761.45 341.60) scale(1 1.020)" font-size="33.50" text-anchor="middle">3000</text>
<text transform="translate(922.46 341.60) scale(1 1.020)" font-size="33.50" text-anchor="middle">10000</text>
<text transform="translate(81.10 281.53) scale(1 1.020)" font-size="33.50" text-anchor="end">0</text>
<text transform="translate(81.10 242.97) scale(1 1.020)" font-size="33.50" text-anchor="end">2</text>
<text transform="translate(81.10 204.41) scale(1 1.020)" font-size="33.50" text-anchor="end">4</text>
<text transform="translate(81.10 165.85) scale(1 1.020)" font-size="33.50" text-anchor="end">6</text>
<text transform="translate(81.10 127.29) scale(1 1.020)" font-size="33.50" text-anchor="end">8</text>
<text transform="translate(81.10 88.73) scale(1 1.020)" font-size="33.50" text-anchor="end">10</text>
<text transform="translate(81.10 50.17) scale(1 1.020)" font-size="33.50" text-anchor="end">12</text>
<text transform="translate(553.25 383.80) scale(1 1.0010)" font-size="36.30" text-anchor="middle">Frequency (Hz)</text>
<text transform="translate(33.30 155.30) rotate(-90) scale(1.0127 1)" font-size="35.50" text-anchor="middle">Magnitude <tspan dx="-1.4">(</tspan><tspan dx="1.4">d</tspan><tspan dx="-0.5">B</tspan><tspan dx="0.5">)</tspan></text>
</svg></body></html>
